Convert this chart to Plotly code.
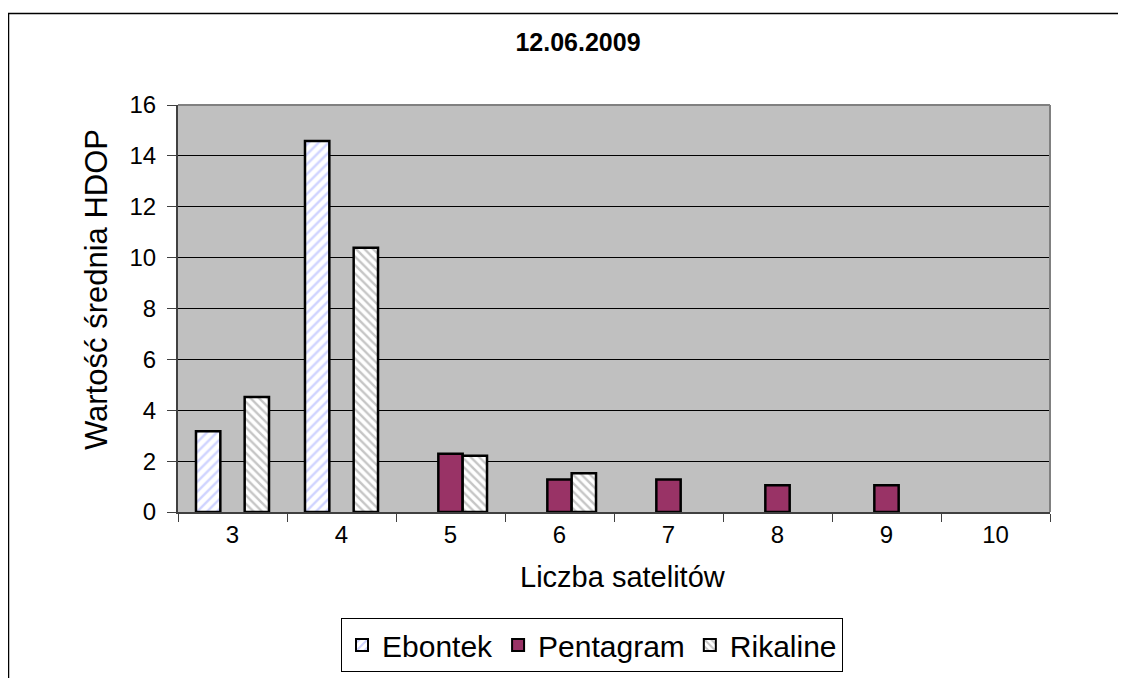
import plotly.graph_objects as go

categories = ["3", "4", "5", "6", "7", "8", "9", "10"]
ebontek = [3.17, 14.58, None, None, None, None, None, None]
pentagram = [None, None, 2.29, 1.28, 1.28, 1.05, 1.05, None]
rikaline = [4.52, 10.39, 2.21, 1.52, None, None, None, None]

FONT = "Liberation Sans, Arial, sans-serif"
W, H = 1126, 678
OFF = 8  # page body margin offset
L, R, T, B = 178, 1050, 105, 512  # screen coords of the plot area

fig = go.Figure()
fig.add_trace(go.Bar(
    name="Ebontek", x=categories, y=ebontek,
    marker=dict(color="white", line=dict(color="black", width=2.5),
                pattern=dict(shape="/", fgcolor="#a0a8ff", bgcolor="white",
                             size=7, solidity=0.35)),
))
fig.add_trace(go.Bar(
    name="Pentagram", x=categories, y=pentagram,
    marker=dict(color="#993366", line=dict(color="black", width=2.5)),
))
fig.add_trace(go.Bar(
    name="Rikaline", x=categories, y=rikaline,
    marker=dict(color="white", line=dict(color="black", width=2.5),
                pattern=dict(shape="\\", fgcolor="#8c8c8c", bgcolor="white",
                             size=6, solidity=0.4)),
))

pw = R - L
ph = B - T

def px_x(x):
    return (x - L) / pw

def px_y(y):
    return (B - y) / ph

fig.update_layout(
    width=W, height=H,
    margin=dict(l=L - OFF, r=W - (R - OFF), t=T - OFF, b=H - (B - OFF),
                autoexpand=False),
    paper_bgcolor="white",
    plot_bgcolor="#c0c0c0",
    font=dict(family=FONT, color="black"),
    barmode="group",
    bargap=0.33,
    bargroupgap=0,
    title=dict(text="<b>12.06.2009</b>", font=dict(size=25, family=FONT),
               x=(578 - OFF) / W, xanchor="center", xref="container",
               y=1 - (42 - OFF) / H, yanchor="middle", yref="container"),
    showlegend=True,
    legend=dict(orientation="h", x=px_x(592), xanchor="center",
                y=px_y(618), yanchor="top",
                bordercolor="black", borderwidth=1, bgcolor="white",
                font=dict(size=30, family=FONT), itemsizing="constant",
                itemwidth=30, tracegroupgap=0),
    xaxis=dict(
        type="category", showgrid=False, showline=True, linecolor="#404040",
        linewidth=2, ticks="outside", ticklen=8, tickcolor="#404040",
        tickson="boundaries", tickfont=dict(size=24, family=FONT),
        zeroline=False, automargin=False,
    ),
    yaxis=dict(
        range=[0, 16], dtick=2, showgrid=True, gridcolor="black", gridwidth=1,
        showline=True, linecolor="#404040", linewidth=2, ticks="outside",
        ticklen=9, tickcolor="#404040", tickfont=dict(size=24, family=FONT),
        ticklabelstandoff=6,
        zeroline=False, automargin=False,
    ),
    annotations=[
        dict(text="Liczba satelitów", xref="paper", yref="paper",
             x=px_x(623), y=px_y(577), xanchor="center", yanchor="middle",
             showarrow=False, font=dict(size=29, family=FONT)),
        dict(text="Wartość średnia HDOP", xref="paper", yref="paper",
             x=px_x(96), y=px_y(290), xanchor="center", yanchor="middle",
             textangle=-90, showarrow=False, font=dict(size=31, family=FONT)),
    ],
    shapes=[
        dict(type="rect", xref="paper", yref="paper",
             x0=px_x(8.5), x1=px_x(1160), y0=px_y(720), y1=px_y(13.5),
             line=dict(color="black", width=1.5), fillcolor="rgba(0,0,0,0)",
             layer="below"),
        dict(type="line", xref="paper", yref="paper",
             x0=0, x1=1, y0=1, y1=1, line=dict(color="#808080", width=2)),
        dict(type="line", xref="paper", yref="paper",
             x0=1, x1=1, y0=0, y1=1, line=dict(color="#808080", width=2)),
    ],
)

fig.write_html("out.html")
